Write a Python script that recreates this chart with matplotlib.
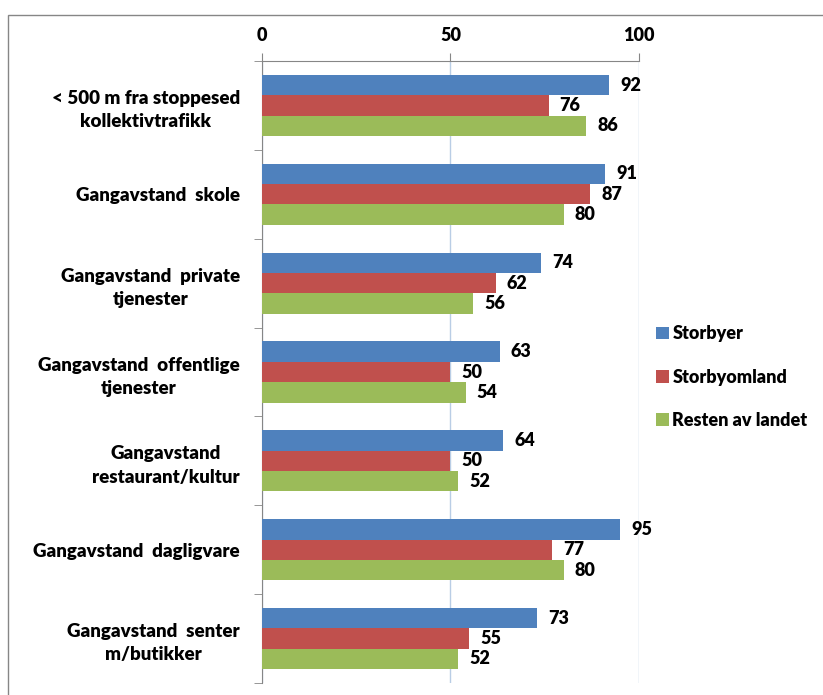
import numpy as np
import matplotlib.pyplot as plt
from matplotlib.patches import Rectangle

plt.rcParams['font.family'] = ['Lato', 'DejaVu Sans']
plt.rcParams['font.weight'] = 'heavy'

# data
kategorier = ['< 500 m fra stoppesed\nkollektivtrafikk',
              'Gangavstand  skole',
              'Gangavstand  private\ntjenester',
              'Gangavstand  offentlige\ntjenester',
              'Gangavstand\nrestaurant/kultur',
              'Gangavstand  dagligvare',
              'Gangavstand  senter\nm/butikker']
storbyer = [92, 91, 74, 63, 64, 95, 73]
storbyomland = [76, 87, 62, 50, 50, 77, 55]
resten = [86, 80, 56, 54, 52, 80, 52]
serier = ['Storbyer', 'Storbyomland', 'Resten av landet']
farger = ['#4F81BD', '#C0504D', '#9BBB59']

fig = plt.figure(figsize=(8.23, 6.95), dpi=100)
ax = fig.add_axes([262/823, 1-683/695, (639-262)/823, (683-61)/695])

y = np.arange(len(kategorier))
h = 0.229
for i, (vals, navn, c) in enumerate(zip([storbyer, storbyomland, resten], serier, farger)):
    bars = ax.barh(y + (i-1)*h, vals, height=h, color=c, label=navn, zorder=3)
    ax.bar_label(bars, padding=8, fontsize=13, fontweight='heavy')

ax.set_xlim(0, 100)
ax.set_ylim(len(kategorier)-0.5, -0.5)

# x-akse oppe
ax.xaxis.set_ticks_position('top')
ax.set_xticks([0, 50, 100])
ax.tick_params(axis='x', direction='out', length=6, color='#868686', pad=6, labelsize=13)
ax.grid(axis='x', color='#B9CDE5', linewidth=1, zorder=0)

# kategorier
ax.set_yticks(y)
ax.set_yticklabels(kategorier, fontsize=13.5, multialignment='center', linespacing=1.45)
ax.tick_params(axis='y', which='major', length=0, pad=16)
ax.set_yticks(np.arange(-0.5, len(kategorier)), minor=True)
ax.tick_params(axis='y', which='minor', length=6, color='#868686', direction='out')

ax.spines['right'].set_color('none')
ax.spines['bottom'].set_color('none')
ax.spines['top'].set_color('#868686')
ax.spines['left'].set_color('#868686')

fig.legend(loc='center left', bbox_to_anchor=(640/823, 1-377/695), fontsize=13,
           frameon=True, facecolor='white', edgecolor='none', framealpha=1,
           handlelength=0.7, handleheight=0.7, handletextpad=0.2,
           labelspacing=1.45, borderpad=0.9, borderaxespad=0)

# ramme rundt diagrammet
fig.patches.append(Rectangle((8/823, -0.1), 1.2, 1.1-15/695, transform=fig.transFigure,
                             fill=False, edgecolor='#868686', linewidth=1))

fig.savefig('out.png', dpi=100)
